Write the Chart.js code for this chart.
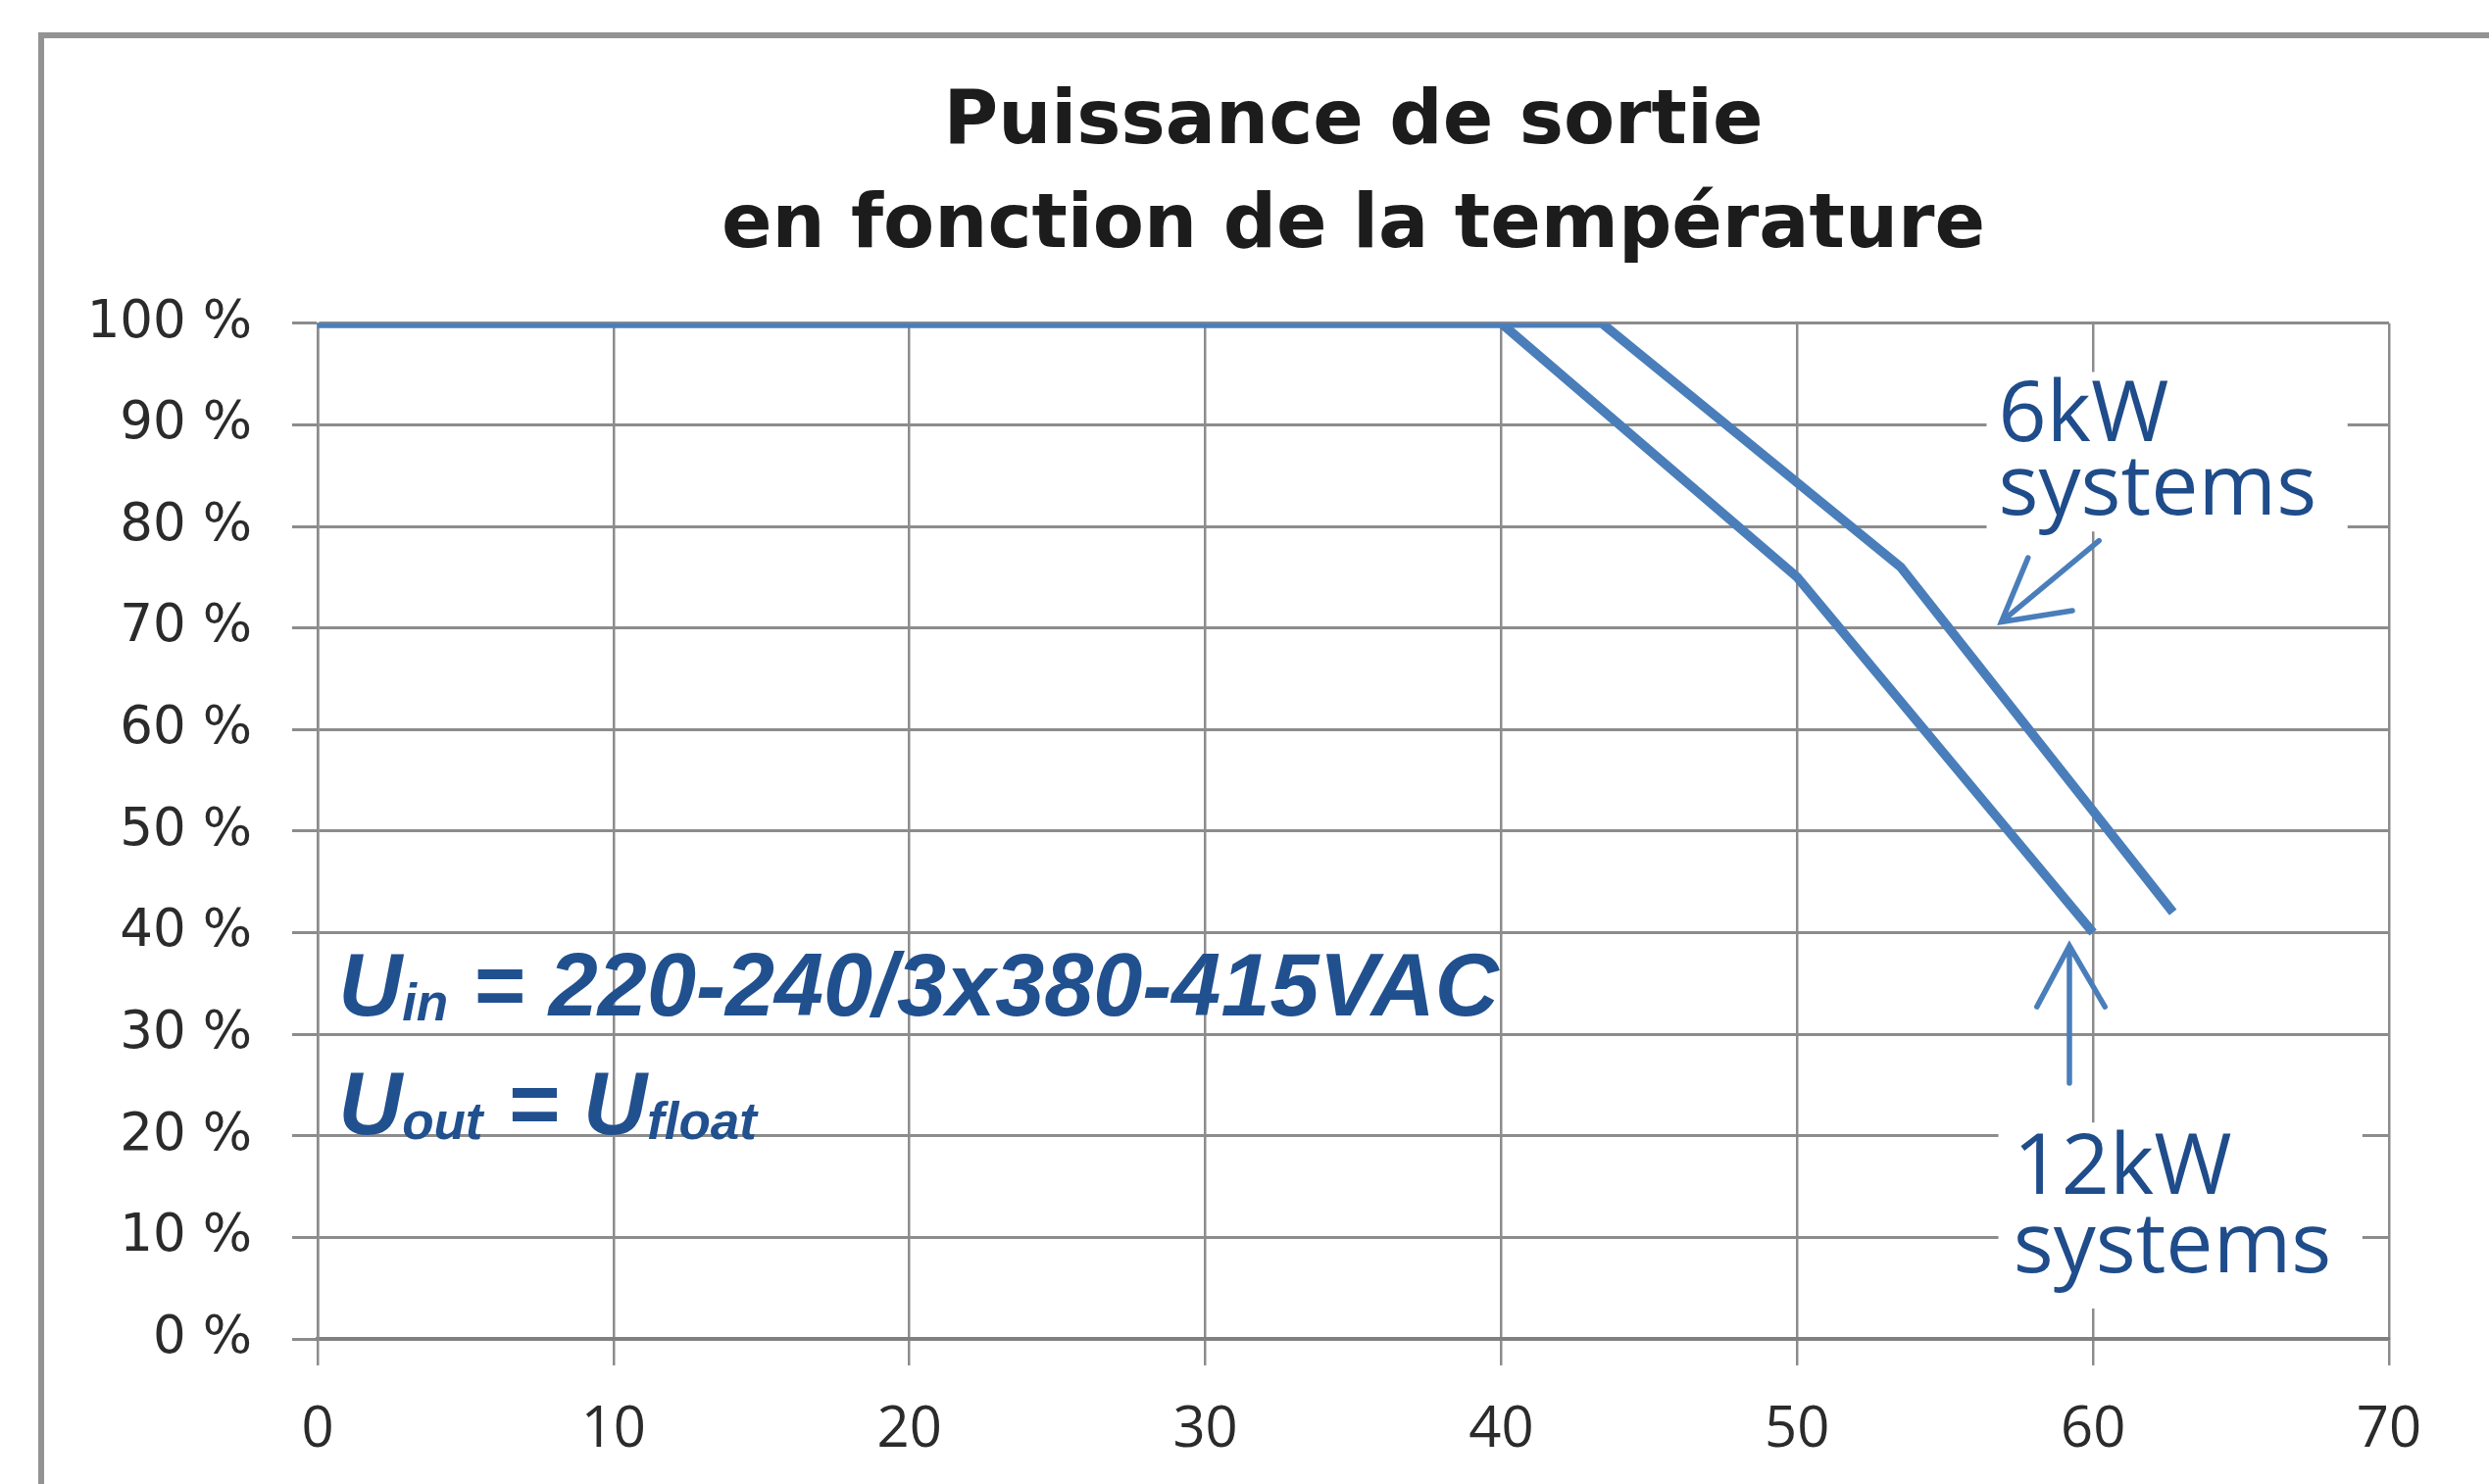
<!DOCTYPE html>
<html>
<head>
<meta charset="utf-8">
<script src="https://cdn.jsdelivr.net/npm/chart.js@4.4.1/dist/chart.umd.min.js"></script>
<style>
html,body{margin:0;padding:0;background:#ffffff;}
canvas{display:block;}
</style>
</head>
<body>
<canvas id="c" width="2539" height="1514"></canvas>
<script>
// ---- data ----
const titleLines = ['Puissance de sortie', 'en fonction de la température'];
const xTickValues = [0, 10, 20, 30, 40, 50, 60, 70];
const yTickValues = [0, 10, 20, 30, 40, 50, 60, 70, 80, 90, 100];
const seriesNames = ['12kW systems', '6kW systems'];
const temp12kW  = [0, 40, 50, 60];
const power12kW = [100, 100, 75, 40];
const temp6kW   = [0, 43.4, 53.5, 62.7];
const power6kW  = [100, 100, 76, 42];
const labelLines6kW  = ['6kW', 'systems'];
const labelLines12kW = ['12kW', 'systems'];
const noteLine1 = [['U', 'main'], ['in', 'sub'], [' = 220-240/3x380-415VAC', 'main']];
const noteLine2 = [['U', 'main'], ['out', 'sub'], [' = ', 'main'], ['U', 'main'], ['float', 'sub']];

// ---- styles / placement (in data units of the axes) ----
const LINE_COLOR = '#4a7ebb';
const TEXT_BLUE = '#1f4c8a';
const GRID = '#8c8c8c';
const ann = {
  box6:  {x0: 56.4, x1: 68.6, y0: 79.5, y1: 95.2},
  text6: {x: 56.8, y: [88.4, 81.2]},
  arrow6: {tail: [60.2, 78.6], head: [56.9, 70.6], w1: [57.8, 76.9], w2: [59.3, 71.7]},
  box12: {x0: 56.8, x1: 69.1, y0: 3.0, y1: 21.3},
  text12: {x: 57.3, y: [14.3, 6.6]},
  arrow12: {tail: [59.2, 25.2], head: [59.2, 38.7], w1: [58.1, 32.7], w2: [60.4, 32.7]},
  note: {x: 0.7, y: [31.8, 20.2]}
};

function toPx(chart, p) {
  return [chart.scales.x.getPixelForValue(p[0]), chart.scales.y.getPixelForValue(p[1])];
}

function drawRich(ctx, x, y, parts) {
  let cx = x;
  for (const [t, kind] of parts) {
    if (kind === 'main') {
      ctx.font = 'italic bold 90px "Liberation Sans", Arial, sans-serif';
      ctx.fillText(t, cx, y);
    } else {
      ctx.font = 'italic bold 53px "Liberation Sans", Arial, sans-serif';
      ctx.fillText(t, cx, y + 5);
    }
    cx += ctx.measureText(t).width;
  }
}

const annotationPlugin = {
  id: 'annotations',
  beforeDraw(chart) {
    const ctx = chart.ctx;
    ctx.save();
    ctx.fillStyle = '#ffffff';
    ctx.fillRect(0, 0, chart.width, chart.height);
    ctx.strokeStyle = '#939393';
    ctx.lineWidth = 6;
    ctx.strokeRect(42, 36, 2700, 1700);
    ctx.restore();
  },
  beforeDatasetsDraw(chart) {
    const ctx = chart.ctx;
    ctx.save();
    ctx.fillStyle = '#ffffff';
    for (const b of [ann.box6, ann.box12]) {
      const [xa, ya] = toPx(chart, [b.x0, b.y1]);
      const [xb, yb] = toPx(chart, [b.x1, b.y0]);
      ctx.fillRect(xa, ya, xb - xa, yb - ya);
    }
    ctx.restore();
  },
  afterDatasetsDraw(chart) {
    const ctx = chart.ctx;
    ctx.save();
    // series labels
    ctx.fillStyle = TEXT_BLUE;
    ctx.textBaseline = 'alphabetic';
    ctx.textAlign = 'left';
    ctx.font = '86px "Open Sans", "Liberation Sans", sans-serif';
    labelLines6kW.forEach((t, i) => {
      const [px, py] = toPx(chart, [ann.text6.x, ann.text6.y[i]]);
      ctx.fillText(t, px, py);
    });
    labelLines12kW.forEach((t, i) => {
      const [px, py] = toPx(chart, [ann.text12.x, ann.text12.y[i]]);
      ctx.fillText(t, px, py);
    });
    // arrows
    ctx.strokeStyle = LINE_COLOR;
    ctx.lineWidth = 5.5;
    ctx.lineCap = 'round';
    for (const a of [ann.arrow6, ann.arrow12]) {
      const t = toPx(chart, a.tail), h = toPx(chart, a.head);
      const w1 = toPx(chart, a.w1), w2 = toPx(chart, a.w2);
      ctx.beginPath();
      ctx.moveTo(t[0], t[1]); ctx.lineTo(h[0], h[1]);
      ctx.moveTo(w1[0], w1[1]); ctx.lineTo(h[0], h[1]); ctx.lineTo(w2[0], w2[1]);
      ctx.stroke();
    }
    // note text
    ctx.fillStyle = '#21508f';
    const [nx, ny1] = toPx(chart, [ann.note.x, ann.note.y[0]]);
    const [, ny2] = toPx(chart, [ann.note.x, ann.note.y[1]]);
    drawRich(ctx, nx, ny1, noteLine1);
    drawRich(ctx, nx, ny2, noteLine2);
    ctx.restore();
  }
};

const toPoints = (xs, ys) => xs.map((x, i) => ({x: x, y: ys[i]}));

new Chart(document.getElementById('c'), {
  type: 'line',
  data: {
    datasets: [
      {label: seriesNames[0], data: toPoints(temp12kW, power12kW), borderColor: LINE_COLOR, borderWidth: 9.5, pointRadius: 0, tension: 0, fill: false},
      {label: seriesNames[1], data: toPoints(temp6kW, power6kW), borderColor: LINE_COLOR, borderWidth: 9.5, pointRadius: 0, tension: 0, fill: false}
    ]
  },
  options: {
    responsive: false,
    animation: false,
    devicePixelRatio: 1,
    layout: {padding: {left: 0, right: 102, top: 0, bottom: 0}},
    plugins: {
      legend: {display: false},
      tooltip: {enabled: false},
      title: {
        display: true,
        text: titleLines,
        fullSize: false,
        color: '#1c1c1c',
        font: {family: '"DejaVu Sans", sans-serif', size: 76, weight: 'bold', lineHeight: 1.4},
        padding: {top: 73, bottom: 44}
      }
    },
    scales: {
      x: {
        type: 'linear',
        min: 0, max: 70,
        afterBuildTicks: (s) => { s.ticks = xTickValues.map(v => ({value: v})); },
        afterFit: (s) => { s.height = 148; },
        ticks: {color: '#2b2b2b', font: {family: '"Open Sans", sans-serif', size: 58}, padding: 32, maxRotation: 0, autoSkip: false},
        grid: {color: GRID, lineWidth: 2.5, tickLength: 27, drawTicks: true},
        border: {display: true, color: '#7f7f7f', width: 3.5}
      },
      y: {
        type: 'linear',
        min: 0, max: 100,
        afterBuildTicks: (s) => { s.ticks = yTickValues.map(v => ({value: v})); },
        afterFit: (s) => { s.width = 324; },
        ticks: {color: '#2b2b2b', font: {family: '"DejaVu Sans", sans-serif', size: 53}, padding: 41, callback: (v) => v + ' %'},
        grid: {color: GRID, lineWidth: 3, tickLength: 26, drawTicks: true},
        border: {display: true, color: GRID, width: 2.5}
      }
    }
  },
  plugins: [annotationPlugin]
});
</script>
</body>
</html>
